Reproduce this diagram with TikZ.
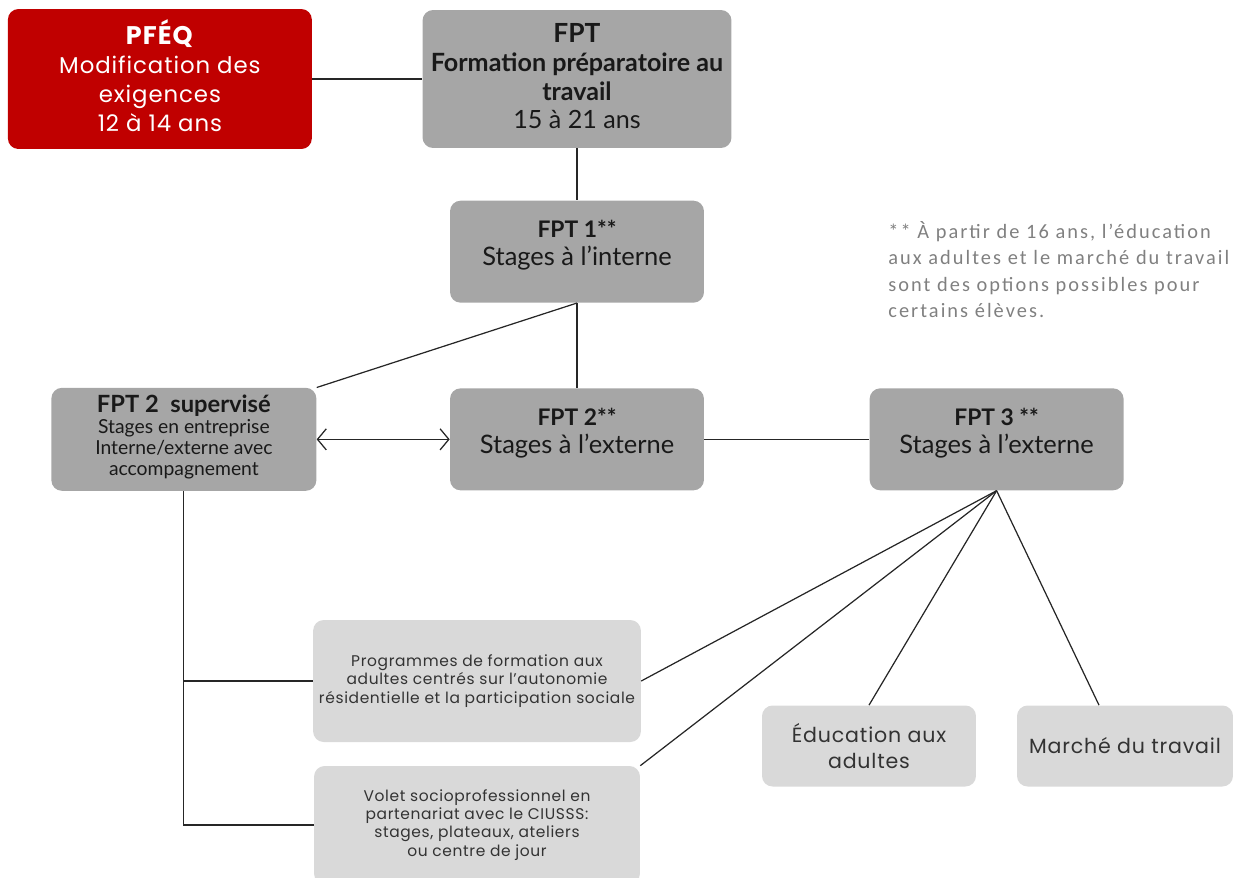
\documentclass[tikz,border=0pt]{standalone}
\usepackage{fontspec}
\usepackage{xcolor}
\usepackage{tikz}
\usetikzlibrary{positioning, arrows.meta, calc}
\newfontfamily\boxfont{Lato}
\newfontfamily\softfont[LetterSpace=4]{Poppins}
\newfontfamily\notefont[LetterSpace=10]{Carlito}
\definecolor{pfeqred}{HTML}{C00000}
\definecolor{boxgray}{HTML}{A6A6A6}
\definecolor{softgray}{HTML}{D9D9D9}
\definecolor{notegray}{HTML}{808080}

\begin{document}
\begin{tikzpicture}[
    x=0.02cm, y=-0.02cm,
    node distance=1.0cm,
    mainbox/.style={
        rectangle,
        fill=boxgray,
        rounded corners=6pt,
        minimum width=5.08cm,
        minimum height=2.04cm,
        align=center,
        text depth=10pt,
        text=black!90,
        font=\boxfont\fontsize{14.5}{16}\selectfont
    },
    softbox/.style={
        rectangle,
        fill=softgray,
        rounded corners=6pt,
        align=center,
        text=black!80,
        font=\softfont\fontsize{8.8}{10.3}\selectfont
    },
    link/.style={draw=black!85, line width=0.7pt}
]
    \useasboundingbox (0,0) rectangle (1241,877);

    % Top row
    \node[mainbox, minimum width=6.18cm, minimum height=2.76cm, text depth=3pt,
          font=\boxfont\fontsize{14.3}{16.3}\selectfont] (fpt) at (577,79)
        {\textbf{\fontsize{15}{16.3}\selectfont FPT}\\\textbf{Formation préparatoire au}\\\textbf{travail}\\15 à 21 ans};
    \node[mainbox, fill=pfeqred, text=white, minimum width=6.08cm, minimum height=2.80cm, text depth=4pt,
          font=\softfont\fontsize{13}{16.5}\selectfont, left=2.2cm of fpt] (pfeq)
        {\textbf{\fontsize{14.5}{16.5}\selectfont PFÉQ}\\Modification des\\exigences\\12 à 14 ans};

    % FPT levels
    \node[mainbox, below=1.04cm of fpt] (fpt1) {\textbf{\fontsize{13}{16}\selectfont FPT 1**}\\Stages à l’interne};
    \node[mainbox, below=1.7cm of fpt1] (fpt2) {\textbf{\fontsize{13}{16}\selectfont FPT 2**}\\Stages à l’externe};
    \node[mainbox, right=3.3cm of fpt2] (fpt3) {\textbf{\fontsize{13}{16}\selectfont FPT 3 **}\\Stages à l’externe};
    \node[mainbox, minimum width=5.30cm, minimum height=2.06cm, left=2.66cm of fpt2,
          text depth=5pt, inner ysep=1pt,
          font=\boxfont\fontsize{11}{12}\selectfont] (fptsup)
        {\textbf{\fontsize{13.5}{16}\selectfont FPT 2~ supervisé}\\Stages en entreprise\\Interne/externe avec\\accompagnement};

    % Outcomes
    \node[softbox, minimum width=6.52cm, minimum height=2.44cm] (prog) at (477,681)
        {Programmes de formation aux\\adultes centrés sur l’autonomie\\résidentielle et la participation sociale};
    \node[softbox, minimum width=6.52cm, minimum height=2.36cm] (volet) at (477,825)
        {Volet socioprofessionnel en\\partenariat avec le CIUSSS:\\stages, plateaux, ateliers\\ou centre de jour};
    \node[softbox, minimum width=4.28cm, minimum height=1.62cm,
          font=\softfont\fontsize{11.7}{15}\selectfont] (edu) at (869,746)
        {Éducation aux\\adultes};
    \node[softbox, minimum width=4.32cm, minimum height=1.62cm,
          font=\softfont\fontsize{11.7}{15}\selectfont] (marche) at (1125,746)
        {Marché du travail};

    % Note
    \node[anchor=north west, align=left, inner sep=0pt, text=notegray,
          font=\notefont\fontsize{11.6}{15.1}\selectfont] (note) at (888,221)
        {** À partir de 16 ans, l’éducation\\aux adultes et le marché du travail\\sont des options possibles pour\\certains élèves.};

    % Connectors
    \draw[link] (pfeq) -- (fpt);
    \draw[link] (fpt) -- (fpt1);
    \draw[link] (fpt1) -- (fpt2);
    \draw[link] (fpt1.south) -- (fptsup.north east);
    \draw[link, <->, >={Straight Barb[length=5pt, width=12pt]}] (fptsup) -- (fpt2);
    \draw[link] (fpt2) -- (fpt3);

    \draw[link] (fpt3.south) -- (prog.east);
    \draw[link] (fpt3.south) -- (volet.north east);
    \draw[link] (fpt3.south) -- (edu.north);
    \draw[link] (fpt3.south) -- ($(marche.north)+(-26,0)$);

    \draw[link] (fptsup.south) -- (fptsup.south |- volet.west) -- (volet.west);
    \draw[link] (fptsup.south |- prog.west) -- (prog.west);
\end{tikzpicture}
\end{document}
